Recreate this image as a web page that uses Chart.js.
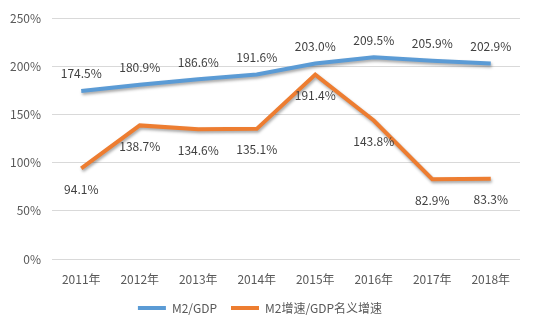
<!DOCTYPE html>
<html>
<head>
<meta charset="utf-8">
<script src="https://cdn.jsdelivr.net/npm/chart.js@4"></script>
<style>
  html, body { margin: 0; padding: 0; background: #fff; }
  #wrap { width: 535px; height: 329px; }
</style>
</head>
<body>
<div id="wrap"><canvas id="myChart" width="535" height="329"></canvas></div>
<script>
const years = ["2011年", "2012年", "2013年", "2014年", "2015年", "2016年", "2017年", "2018年"];
const m2gdp = [174.5, 180.9, 186.6, 191.6, 203.0, 209.5, 205.9, 202.9];
const m2growthRatio = [94.1, 138.7, 134.6, 135.1, 191.4, 143.8, 82.9, 83.3];
const yTicks = [0, 50, 100, 150, 200, 250];

const FONT = "'Noto Sans CJK SC', 'Noto Sans', sans-serif";

// shadow under the lines, like excel
const shadowPlugin = {
  id: "lineShadow",
  beforeDatasetsDraw(chart) {
    const c = chart.ctx;
    c.save();
    c.shadowColor = "rgba(0,0,0,0.35)";
    c.shadowBlur = 3;
    c.shadowOffsetX = 1;
    c.shadowOffsetY = 2;
  },
  afterDatasetsDraw(chart) {
    chart.ctx.restore();
  }
};

// value labels: blue above, orange below
const labelPlugin = {
  id: "valueLabels",
  afterDatasetsDraw(chart) {
    const c = chart.ctx;
    c.save();
    c.font = "12px " + FONT;
    c.fillStyle = "#404040";
    c.textAlign = "center";
    c.textBaseline = "middle";
    chart.data.datasets.forEach((ds, i) => {
      const meta = chart.getDatasetMeta(i);
      const off = i === 0 ? -17 : 21;
      meta.data.forEach((pt, j) => {
        c.fillText(ds.data[j].toFixed(1) + "%", pt.x, pt.y + off);
      });
    });
    c.restore();
  }
};

const ctx = document.getElementById("myChart").getContext("2d");
const myChart = new Chart(ctx, {
  type: "line",
  data: {
    labels: years,
    datasets: [{
      label: "M2/GDP",
      data: m2gdp,
      borderColor: "#5B9BD5",
      backgroundColor: "#5B9BD5",
      borderWidth: 4,
      pointRadius: 0,
      tension: 0
    }, {
      label: "M2增速/GDP名义增速",
      data: m2growthRatio,
      borderColor: "#ED7D31",
      backgroundColor: "#ED7D31",
      borderWidth: 4,
      pointRadius: 0,
      tension: 0
    }]
  },
  options: {
    responsive: false,
    animation: false,
    layout: { padding: { top: 3, right: 15, left: 0, bottom: 5 } },
    plugins: {
      legend: {
        position: "bottom",
        labels: {
          usePointStyle: true,
          pointStyle: "line",
          pointStyleWidth: 28,
          boxHeight: 4,
          padding: 14,
          color: "#595959",
          font: { family: FONT, size: 12 }
        }
      },
      tooltip: { enabled: false }
    },
    scales: {
      x: {
        offset: true,
        grid: { display: false, drawTicks: false },
        border: { display: false },
        ticks: { color: "#595959", padding: 13, font: { family: FONT, size: 12 }, maxRotation: 0 },
        afterFit: s => { s.height = 29; }
      },
      y: {
        min: 0,
        max: 250,
        afterBuildTicks: s => { s.ticks = yTicks.map(v => ({ value: v })); },
        grid: { color: "#D9D9D9", drawTicks: false },
        border: { display: false },
        ticks: {
          color: "#595959",
          padding: 11,
          font: { family: FONT, size: 12 },
          callback: v => v + "%"
        },
        afterFit: s => { s.width = 52; }
      }
    }
  },
  plugins: [shadowPlugin, labelPlugin]
});
</script>
</body>
</html>
